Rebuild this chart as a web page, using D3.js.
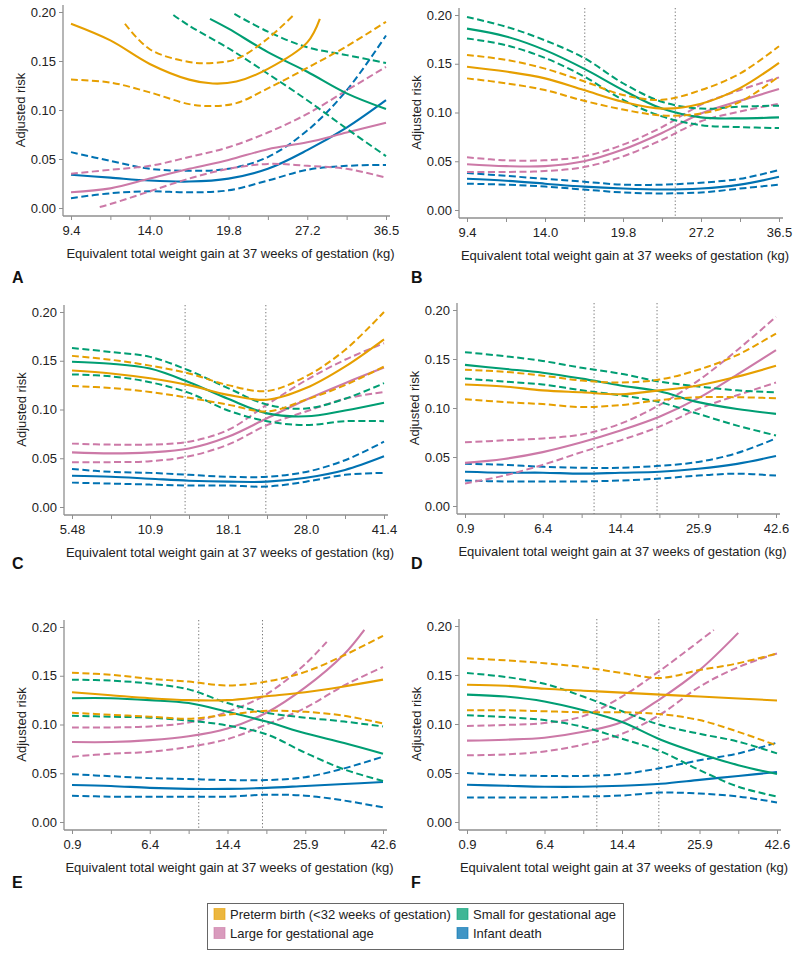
<!DOCTYPE html>
<html><head><meta charset="utf-8">
<script src="https://cdn.jsdelivr.net/npm/d3@7"></script>
<style>body{margin:0;background:#fff} svg{display:block;font-family:"Liberation Sans",Arial,sans-serif}</style>
</head><body><svg id="c" width="800" height="955"></svg>
<script>
// ---------- data ----------
const outcomes = ["Preterm birth (<32 weeks of gestation)", "Small for gestational age", "Large for gestational age", "Infant death"];
const outcomeColors = ["#E69F00", "#009E73", "#CC79A7", "#0072B2"];
const yTickValues = [0, 0.05, 0.10, 0.15, 0.20];
const panelLetters = ["A", "B", "C", "D", "E", "F"];
const xLabelsA = ["9.4", "14.0", "19.8", "27.2", "36.5"];
const xLabelsB = ["9.4", "14.0", "19.8", "27.2", "36.5"];
const xLabelsC = ["5.48", "10.9", "18.1", "28.0", "41.4"];
const xLabelsD = ["0.9", "6.4", "14.4", "25.9", "42.6"];
const xLabelsE = ["0.9", "6.4", "14.4", "25.9", "42.6"];
const xLabelsF = ["0.9", "6.4", "14.4", "25.9", "42.6"];
const refLinesA = [];
const refLinesB = [3.02, 5.34];
const refLinesC = [2.9, 4.97];
const refLinesD = [3.32, 4.94];
const refLinesE = [3.26, 4.9];
const refLinesF = [3.35, 4.95];
const grid = [0, 1, 2, 3, 4, 5, 6, 7, 8];

// each outcome: [estimate, lower, upper]; points are [x position index, risk]
const A_preterm = [
  [[0,.188],[1,.171],[2,.147],[3,.131],[3.6,.127],[4.2,.129],[5,.142],[6,.169],[6.32,.193]],
  [[0,.131],[1,.128],[2,.118],[3,.106],[3.6,.104],[4.2,.107],[5,.122],[6,.143],[7,.165],[8,.190]],
  [[1.37,.188],[2,.162],[3,.149],[3.6,.148],[4.2,.152],[5,.173],[5.68,.198]]];
const A_small = [
  [[3.53,.193],[4,.183],[5,.159],[6,.139],[7,.117],[8,.101]],
  [[2.6,.197],[3,.186],[4,.163],[5,.137],[6,.110],[7,.081],[8,.053]],
  [[4.15,.198],[5,.180],[6,.164],[7,.156],[8,.148]]];
const A_large = [
  [[0,.016],[1,.020],[2,.030],[3,.040],[4,.049],[5,.060],[6,.067],[7,.077],[8,.087]],
  [[0.73,.001],[1,.004],[2,.017],[3,.030],[4,.040],[5,.045],[6,.043],[7,.040],[8,.031]],
  [[0,.035],[1,.039],[2,.043],[3,.052],[4,.062],[5,.077],[6,.096],[7,.120],[8,.144]]];
const A_death = [
  [[0,.034],[1,.031],[2,.028],[3,.027],[4,.030],[5,.040],[6,.059],[7,.082],[8,.110]],
  [[0,.010],[1,.015],[2,.017],[3,.016],[4,.018],[5,.028],[6,.039],[7,.043],[8,.044]],
  [[0,.057],[1,.048],[2,.040],[3,.038],[4,.040],[5,.052],[6,.079],[7,.120],[8,.176]]];

const B_preterm = [[.147,.142,.135,.123,.111,.104,.109,.125,.151],[.135,.130,.123,.112,.103,.097,.099,.111,.137],[.159,.154,.145,.132,.118,.113,.123,.140,.168]];
const B_small   = [[.186,.178,.164,.145,.123,.104,.095,.094,.095],[.176,.169,.156,.137,.113,.096,.087,.085,.084],[.198,.188,.174,.156,.130,.111,.104,.106,.107]];
const B_large   = [[.047,.045,.045,.050,.062,.079,.099,.112,.124],[.039,.039,.040,.044,.055,.072,.091,.101,.109],[.054,.051,.051,.055,.067,.085,.108,.123,.136]];
const B_death   = [[.032,.030,.027,.024,.022,.021,.022,.026,.034],[.027,.026,.024,.021,.018,.017,.018,.022,.026],[.038,.035,.032,.029,.026,.026,.028,.032,.041]];

const C_preterm = [[.140,.137,.132,.125,.115,.110,.122,.144,.172],[.124,.122,.118,.112,.105,.098,.110,.125,.144],[.155,.151,.145,.137,.125,.119,.134,.161,.200]];
const C_small   = [[.149,.147,.142,.128,.111,.096,.093,.099,.107],[.136,.134,.128,.117,.099,.088,.084,.088,.088],[.163,.159,.154,.140,.122,.105,.101,.111,.127]];
const C_large   = [[.056,.055,.056,.060,.072,.091,.110,.127,.143],[.046,.046,.047,.052,.064,.084,.098,.111,.118],[.065,.064,.064,.067,.079,.105,.130,.151,.168]];
const C_death   = [[.032,.031,.029,.027,.026,.026,.030,.038,.052],[.025,.024,.023,.022,.022,.021,.026,.033,.035],[.039,.036,.035,.033,.031,.031,.036,.048,.067]];

const D_preterm = [[.124,.122,.118,.116,.114,.118,.123,.132,.143],[.109,.106,.104,.101,.103,.108,.111,.111,.110],[.139,.137,.133,.128,.126,.129,.139,.154,.176]];
const D_small   = [[.144,.140,.136,.130,.123,.117,.106,.099,.094],[.130,.127,.124,.118,.113,.106,.094,.082,.072],[.157,.153,.148,.141,.135,.127,.122,.118,.116]];
const D_large   = [[.044,.048,.055,.065,.077,.091,.110,.134,.159],[.023,.031,.042,.055,.067,.081,.099,.113,.126],[.065,.067,.069,.073,.084,.103,.128,.159,.193]];
const D_death   = [[.035,.034,.034,.033,.034,.035,.038,.043,.051],[.026,.025,.025,.025,.026,.028,.031,.033,.031],[.043,.042,.040,.039,.039,.041,.045,.054,.069]];

const E_preterm = [[.133,.130,.127,.125,.125,.129,.133,.139,.146],[.112,.110,.108,.106,.110,.114,.113,.109,.101],[.153,.151,.147,.144,.140,.144,.154,.171,.191]];
const E_small   = [[.127,.127,.125,.122,.113,.103,.091,.081,.070],[.109,.108,.107,.104,.099,.090,.071,.054,.042],[.146,.145,.142,.136,.122,.112,.107,.103,.098]];
const E_large   = [
  [[0,.082],[1,.082],[2,.084],[3,.088],[4,.096],[5,.112],[6,.138],[7,.172],[7.52,.197]],
  [[0,.067],[1,.070],[2,.072],[3,.077],[4,.085],[5,.100],[6,.117],[7,.140],[8,.159]],
  [[0,.097],[1,.097],[2,.098],[3,.102],[4,.113],[5,.131],[6,.162],[6.58,.186]]];
const E_death   = [[.038,.037,.035,.034,.034,.035,.037,.039,.041],[.027,.026,.026,.026,.026,.028,.027,.022,.015],[.049,.047,.045,.044,.043,.043,.046,.055,.067]];

const F_preterm = [[.140,.139,.136,.134,.132,.130,.128,.126,.124],[.114,.114,.113,.112,.112,.110,.104,.092,.078],[.167,.165,.162,.158,.152,.147,.155,.162,.172]];
const F_small   = [[.130,.128,.123,.114,.102,.084,.070,.058,.049],[.109,.107,.104,.097,.085,.072,.053,.036,.026],[.152,.148,.141,.128,.113,.099,.090,.082,.070]];
const F_large   = [
  [[0,.083],[1,.084],[2,.086],[3,.092],[4,.102],[5,.126],[6,.155],[7,.193]],
  [[0,.068],[1,.069],[2,.072],[3,.079],[4,.090],[5,.110],[6,.138],[7,.158],[8,.172]],
  [[0,.098],[1,.099],[2,.101],[3,.108],[4,.128],[5,.155],[6.37,.196]]];
const F_death   = [[.038,.037,.036,.036,.037,.039,.043,.047,.051],[.025,.025,.025,.026,.027,.030,.029,.026,.020],[.050,.048,.047,.047,.049,.055,.063,.070,.081]];

// ---------- layout ----------
const panels = [
  {letter: panelLetters[0], labels: xLabelsA, refs: refLinesA, series: [A_preterm, A_small, A_large, A_death],
   x0: 71, x8: 386, y0: 208, y20: 12, lx: 12, ly: 283},
  {letter: panelLetters[1], labels: xLabelsB, refs: refLinesB, series: [B_preterm, B_small, B_large, B_death],
   x0: 467, x8: 779, y0: 210, y20: 15, lx: 411, ly: 283},
  {letter: panelLetters[2], labels: xLabelsC, refs: refLinesC, series: [C_preterm, C_small, C_large, C_death],
   x0: 72, x8: 384, y0: 507, y20: 312, lx: 12, ly: 569},
  {letter: panelLetters[3], labels: xLabelsD, refs: refLinesD, series: [D_preterm, D_small, D_large, D_death],
   x0: 465, x8: 776, y0: 506, y20: 310, lx: 411, ly: 569},
  {letter: panelLetters[4], labels: xLabelsE, refs: refLinesE, series: [E_preterm, E_small, E_large, E_death],
   x0: 72, x8: 383, y0: 822, y20: 627, lx: 12, ly: 888},
  {letter: panelLetters[5], labels: xLabelsF, refs: refLinesF, series: [F_preterm, F_small, F_large, F_death],
   x0: 467, x8: 777, y0: 822, y20: 626, lx: 411, ly: 888}
];

const svg = d3.select("#c");
const axisColor = "#8f8f8f";
const textColor = "#222";
const toPts = arr => (Array.isArray(arr[0]) ? arr : arr.map((v, i) => [grid[i], v]));

panels.forEach((p, pi) => {
  const g = svg.append("g");
  const x = d3.scaleLinear().domain([0, 8]).range([p.x0, p.x8]);
  const y = d3.scaleLinear().domain([0, 0.2]).range([p.y0, p.y20]);
  const axX = p.x0 - 8, axB = p.y0 + 8, top = p.y20 - 7;

  // y axis
  const ya = g.append("g").attr("transform", `translate(${axX},0)`)
    .call(d3.axisLeft(y).tickValues(yTickValues).tickSize(4).tickPadding(3).tickFormat(d3.format(".2f")));
  ya.select(".domain").remove();
  ya.selectAll("line").attr("stroke", axisColor);
  ya.selectAll("text").attr("font-size", 13).attr("fill", textColor).attr("font-family", null);
  g.append("line").attr("x1", axX).attr("x2", axX).attr("y1", top).attr("y2", axB).attr("stroke", axisColor).attr("stroke-width", 1.3);

  // x axis
  const xa = g.append("g").attr("transform", `translate(0,${axB})`)
    .call(d3.axisBottom(x).tickValues(grid).tickSize(4).tickPadding(6)
      .tickFormat(i => (i % 2 === 0 ? p.labels[i / 2] : "")));
  xa.select(".domain").remove();
  xa.selectAll("line").attr("stroke", axisColor);
  xa.selectAll("text").attr("font-size", 13).attr("fill", textColor).attr("font-family", null);
  g.append("line").attr("x1", axX).attr("x2", p.x8 + 4).attr("y1", axB).attr("y2", axB).attr("stroke", axisColor).attr("stroke-width", 1.3);

  // reference lines
  p.refs.forEach(r => {
    g.append("line").attr("x1", x(r)).attr("x2", x(r)).attr("y1", top).attr("y2", axB)
      .attr("stroke", "#777").attr("stroke-width", 1).attr("stroke-dasharray", "1.3,2.2");
  });

  // curves
  const clipId = "clip" + pi;
  g.append("clipPath").attr("id", clipId).append("rect")
    .attr("x", axX).attr("y", top).attr("width", p.x8 - axX + 6).attr("height", axB - top);
  const line = d3.line().x(d => x(d[0])).y(d => y(d[1])).curve(d3.curveCatmullRom.alpha(0.5));
  const lg = g.append("g").attr("clip-path", `url(#${clipId})`);
  [3, 2, 1, 0].forEach(k => {
    const s = p.series[k];
    [1, 2].forEach(j => {
      lg.append("path").attr("d", line(toPts(s[j]))).attr("fill", "none")
        .attr("stroke", outcomeColors[k]).attr("stroke-width", 2).attr("stroke-dasharray", "7,3.5");
    });
    lg.append("path").attr("d", line(toPts(s[0]))).attr("fill", "none")
      .attr("stroke", outcomeColors[k]).attr("stroke-width", 2.1);
  });

  // labels
  g.append("text").attr("transform", `translate(${axX - 43},${(p.y0 + p.y20) / 2}) rotate(-90)`)
    .attr("text-anchor", "middle").attr("dominant-baseline", "central")
    .attr("font-size", 13).attr("fill", textColor).text("Adjusted risk");
  g.append("text").attr("x", (axX + p.x8 + 4) / 2 + 4).attr("y", axB + 42)
    .attr("text-anchor", "middle").attr("font-size", 13).attr("fill", textColor)
    .text("Equivalent total weight gain at 37 weeks of gestation (kg)");
  g.append("text").attr("x", p.lx).attr("y", p.ly).attr("font-size", 16).attr("font-weight", "bold")
    .attr("fill", "#111").text(p.letter);
});

// legend
const leg = svg.append("g");
leg.append("rect").attr("x", 207.5).attr("y", 903.5).attr("width", 416).attr("height", 46)
  .attr("fill", "#fff").attr("stroke", "#666").attr("stroke-width", 1);
const legPos = [[214, 914], [457, 914], [214, 933], [457, 933]];
outcomes.forEach((name, k) => {
  const [lx, ly] = legPos[k];
  leg.append("rect").attr("x", lx).attr("y", ly - 5.5).attr("width", 11).attr("height", 11)
    .attr("fill", outcomeColors[k]).attr("fill-opacity", 0.75).attr("stroke", outcomeColors[k]).attr("stroke-opacity", 0.6);
  leg.append("text").attr("x", lx + 16).attr("y", ly).attr("dominant-baseline", "central")
    .attr("font-size", 13).attr("fill", textColor).text(name);
});
</script></body></html>
